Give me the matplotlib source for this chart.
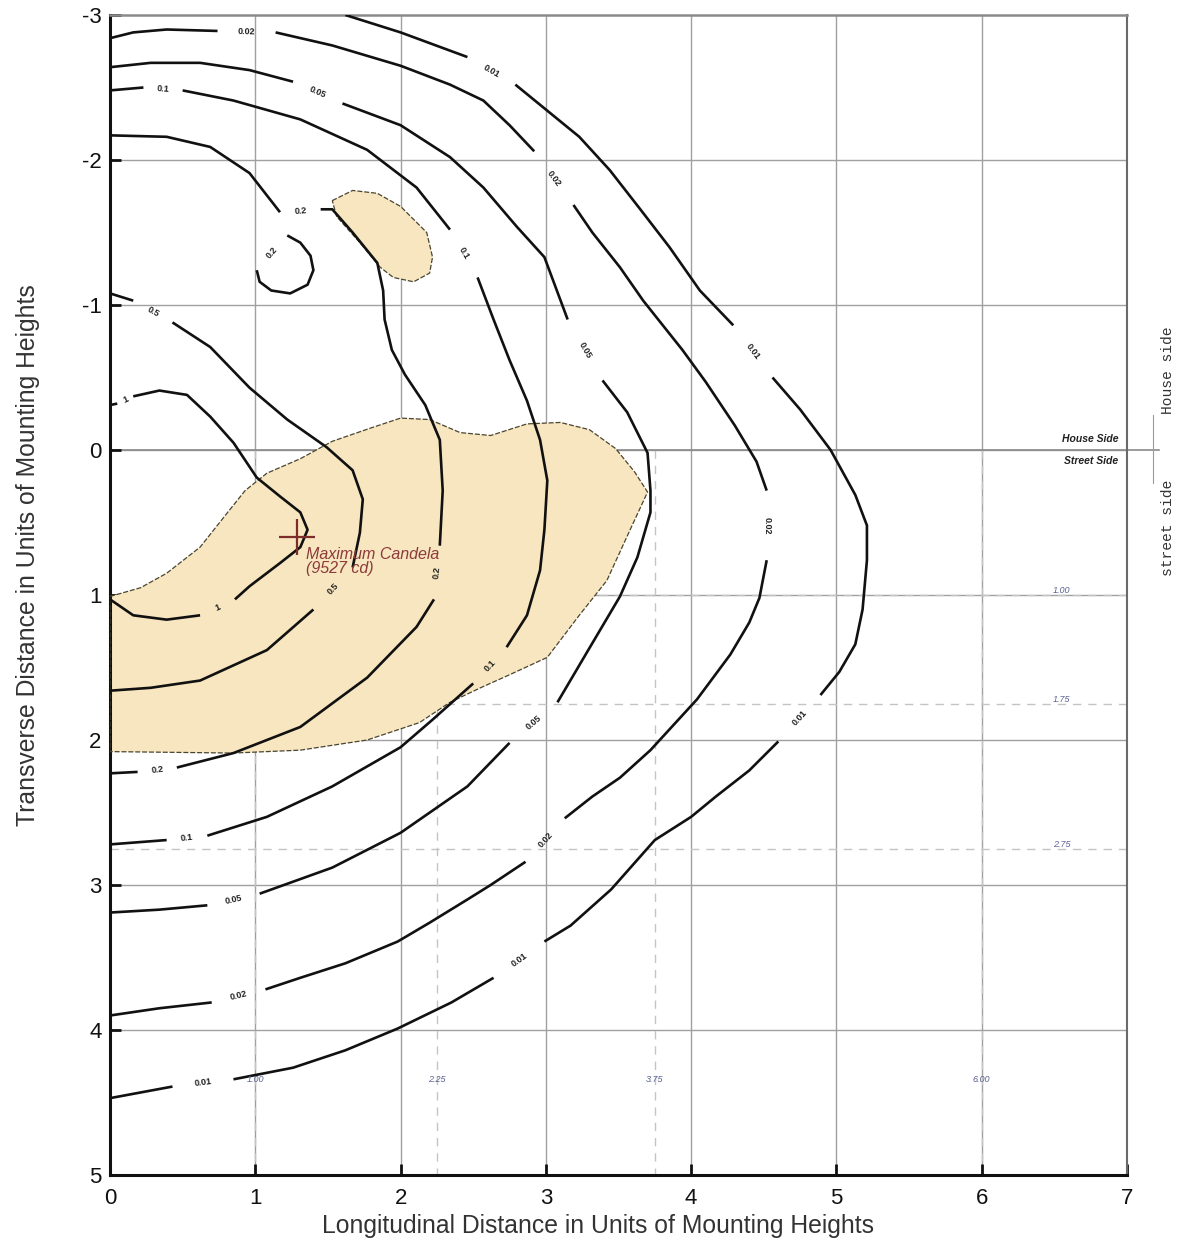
import numpy as np
import matplotlib
matplotlib.use('Agg')
import matplotlib.pyplot as plt
from matplotlib import font_manager

nan = np.nan

# ---------------- data (units of mounting heights) ----------------
# Iso-footcandle contours; NaN separates pieces (a label sits in each gap)
c001_x = [1.62, 2.00, 2.46, nan, 2.79, 3.01, 3.23, 3.44, 3.65, 3.85, 4.06, 4.29, nan,
          4.56, 4.75, 4.96, 5.13, 5.21, 5.21, 5.18, 5.13, 5.02, 4.89, nan,
          4.60, 4.40, 4.17, 4.00, 3.75, 3.45, 3.17, 2.99, nan,
          2.64, 2.35, 1.98, 1.62, 1.26, 0.85, nan, 0.43, 0.00]
c001_y = [-3.00, -2.88, -2.71, nan, -2.52, -2.34, -2.16, -1.93, -1.66, -1.40, -1.10, -0.86, nan,
          -0.50, -0.28, 0.00, 0.31, 0.52, 0.76, 1.10, 1.34, 1.53, 1.69, nan,
          2.01, 2.21, 2.39, 2.53, 2.69, 3.03, 3.28, 3.39, nan,
          3.64, 3.81, 3.99, 4.14, 4.26, 4.34, nan, 4.39, 4.47]

c002_x = [0.00, 0.16, 0.39, 0.74, nan, 1.14, 1.53, 2.00, 2.34, 2.57, 2.75, 2.92, nan,
          3.19, 3.32, 3.51, 3.67, 3.94, 4.10, 4.30, 4.45, 4.52, nan,
          4.52, 4.47, 4.40, 4.27, 4.04, 3.72, 3.51, 3.32, 3.13, nan,
          2.86, 2.62, 2.46, 2.20, 1.98, 1.62, 1.31, 1.07, nan, 0.70, 0.34, 0.00]
c002_y = [-2.84, -2.88, -2.90, -2.89, nan, -2.88, -2.79, -2.65, -2.52, -2.41, -2.24, -2.06, nan,
          -1.69, -1.50, -1.26, -1.03, -0.69, -0.47, -0.17, 0.08, 0.28, nan,
          0.76, 1.02, 1.19, 1.41, 1.72, 2.07, 2.26, 2.39, 2.54, nan,
          2.84, 3.00, 3.10, 3.26, 3.39, 3.54, 3.64, 3.72, nan, 3.81, 3.85, 3.90]

c005_x = [0.00, 0.28, 0.62, 0.96, 1.26, nan, 1.60, 2.00, 2.34, 2.57, 2.80, 2.99, 3.15, nan,
          3.39, 3.56, 3.70, 3.72, 3.72, 3.63, 3.51, 3.28, 3.08, nan,
          2.75, 2.46, 2.00, 1.53, 1.03, nan, 0.67, 0.34, 0.00]
c005_y = [-2.64, -2.67, -2.67, -2.62, -2.54, nan, -2.39, -2.24, -2.02, -1.81, -1.54, -1.33, -0.90, nan,
          -0.48, -0.26, 0.02, 0.28, 0.43, 0.74, 1.01, 1.40, 1.74, nan,
          2.02, 2.32, 2.64, 2.88, 3.06, nan, 3.14, 3.17, 3.19]

c01_x = [0.00, 0.23, nan, 0.50, 0.85, 1.31, 1.77, 2.11, 2.34, nan,
         2.53, 2.64, 2.75, 2.87, 2.96, 3.01, 2.99, 2.96, 2.87, 2.73, nan,
         2.50, 2.22, 2.00, 1.53, 1.08, 0.67, nan, 0.39, 0.00]
c01_y = [-2.48, -2.50, nan, -2.48, -2.41, -2.28, -2.07, -1.81, -1.52, nan,
         -1.19, -0.90, -0.62, -0.34, -0.07, 0.21, 0.55, 0.83, 1.14, 1.36, nan,
         1.61, 1.86, 2.05, 2.32, 2.53, 2.66, nan, 2.69, 2.72]

c02_x = [0.00, 0.39, 0.69, 0.96, 1.17, nan,
         1.45, 1.53, 1.67, 1.84, 1.88, 1.89, 1.94, 2.03, 2.17, 2.27, 2.29, 2.27, nan,
         2.23, 2.11, 1.77, 1.31, 0.85, 0.46, nan, 0.19, 0.00]
c02_y = [-2.17, -2.16, -2.09, -1.91, -1.64, nan,
         -1.66, -1.66, -1.50, -1.29, -1.10, -0.90, -0.69, -0.52, -0.31, -0.07, 0.28, 0.66, nan,
         1.03, 1.22, 1.57, 1.91, 2.09, 2.19, nan, 2.22, 2.23]

c02_island_x = [1.22, 1.31, 1.38, 1.40, 1.36, 1.24, 1.11, 1.03, 1.01]
c02_island_y = [-1.48, -1.43, -1.34, -1.24, -1.14, -1.08, -1.10, -1.16, -1.24]

c05_x = [0.00, 0.16, nan, 0.43, 0.69, 0.96, 1.22, 1.49, 1.67, 1.74, 1.72, 1.67, nan,
         1.40, 1.08, 0.62, 0.28, 0.00]
c05_y = [-1.08, -1.03, nan, -0.88, -0.71, -0.43, -0.21, -0.02, 0.14, 0.34, 0.57, 0.81, nan,
         1.10, 1.38, 1.59, 1.64, 1.66]

c1_x = [0.00, 0.05, nan, 0.16, 0.34, 0.53, 0.69, 0.85, 1.01, 1.17, 1.31, 1.36, 1.31, 1.17,
        0.96, 0.86, nan, 0.62, 0.39, 0.16, 0.00]
c1_y = [-0.31, -0.32, nan, -0.37, -0.41, -0.38, -0.23, -0.05, 0.19, 0.32, 0.43, 0.55, 0.67, 0.78,
        0.94, 1.03, nan, 1.14, 1.17, 1.14, 1.03]

# Shaded regions
tan_main_x = [0.00, 0.21, 0.39, 0.62, 0.81, 0.93, 1.08, 1.31, 1.53, 1.79, 2.00, 2.20, 2.41,
              2.62, 2.87, 3.10, 3.30, 3.48, 3.61, 3.70, 3.58, 3.42, 3.23, 3.01, 2.75, 2.55,
              2.34, 2.13, 1.77, 1.31, 0.85, 0.00]
tan_main_y = [1.01, 0.95, 0.85, 0.67, 0.43, 0.28, 0.16, 0.06, -0.06, -0.15, -0.22, -0.21, -0.12,
              -0.10, -0.18, -0.19, -0.14, -0.01, 0.15, 0.29, 0.55, 0.90, 1.14, 1.43, 1.55, 1.64,
              1.74, 1.88, 2.00, 2.07, 2.09, 2.08]
tan_small_x = [1.53, 1.67, 1.84, 2.00, 2.18, 2.22, 2.20, 2.09, 1.95, 1.86, 1.72, 1.56]
tan_small_y = [-1.72, -1.79, -1.77, -1.68, -1.50, -1.33, -1.22, -1.16, -1.19, -1.26, -1.43, -1.61]

# Reference lines (street side) and their labels
dash_x = [1.00, 2.25, 3.75, 6.00]
dash_x_labels = ['1.00', '2.25', '3.75', '6.00']
dash_y = [1.00, 1.75, 2.75]
dash_y_labels = ['1.00', '1.75', '2.75']

max_cd_x, max_cd_y = 1.29, 0.60
max_cd_text = ['Maximum Candela', '(9527 cd)']

x_ticks = [0, 1, 2, 3, 4, 5, 6, 7]
y_ticks = [-3, -2, -1, 0, 1, 2, 3, 4, 5]

contours = [
    ('0.01', c001_x, c001_y, False),
    ('0.02', c002_x, c002_y, False),
    ('0.05', c005_x, c005_y, False),
    ('0.1', c01_x, c01_y, False),
    ('0.2', c02_x, c02_y, False),
    ('0.2', c02_island_x, c02_island_y, True),
    ('0.5', c05_x, c05_y, False),
    ('1', c1_x, c1_y, False),
]

# ---------------- fonts ----------------
avail = {f.name for f in font_manager.fontManager.ttflist}
narrow = 'Liberation Sans Narrow' if 'Liberation Sans Narrow' in avail else 'Liberation Sans'
plt.rcParams['font.family'] = ['Liberation Sans', 'DejaVu Sans']

# ---------------- figure ----------------
W, H = 1178, 1249
fig = plt.figure(figsize=(W / 100, H / 100), dpi=100)
ax = fig.add_axes([110 / W, 1 - 1175 / H, (1127 - 110) / W, (1175 - 15) / H])
ax.set_xlim(0, 7)
ax.set_ylim(5, -3)

# grid
for gx in range(1, 7):
    ax.axvline(gx, color='#a0a0a0', lw=1.0, zorder=0)
for gy in range(-2, 5):
    ax.axhline(gy, color='#a0a0a0', lw=1.0, zorder=0)

# dashed street-side reference lines
for dx in dash_x:
    ax.plot([dx, dx], [0, 5], color='#c4c4c4', lw=1.0, ls=(0, (6, 5)), zorder=1)
for dy in dash_y:
    ax.plot([0, 7], [dy, dy], color='#c4c4c4', lw=1.0, ls=(0, (6, 5)), zorder=1)
for dx, lab in zip(dash_x, dash_x_labels):
    ax.text(dx, 4.34, lab, fontsize=6.5, style='italic', color='#5a6290',
            ha='center', va='center', zorder=6)
for dy, lab in zip(dash_y, dash_y_labels):
    ax.text(6.55, dy - 0.03, lab, fontsize=6.5, style='italic', color='#5a6290',
            ha='center', va='center', zorder=6)

# house / street divider line (extends past the frame)
ax.plot([0, 7.22], [0, 0], color='#8a8a8a', lw=1.2, zorder=1, clip_on=False)
ax.plot([7.18, 7.18], [-0.24, 0.23], color='#9a9a9a', lw=0.8, zorder=1, clip_on=False)

# shaded regions
for xs, ys in [(tan_main_x, tan_main_y), (tan_small_x, tan_small_y)]:
    ax.fill(xs, ys, facecolor='#f7e6bf', edgecolor='none', zorder=2)
    ax.fill(xs, ys, facecolor='none', edgecolor='#4a4530', lw=0.9,
            ls=(0, (4, 1.5)), zorder=3)

# contours
for lab, xs, ys, closed in contours:
    ax.plot(xs, ys, color='#111111', lw=1.9, solid_capstyle='butt', zorder=4)

fig.canvas.draw()


def place_label(lab, p0, p1):
    d0 = ax.transData.transform(p0)
    d1 = ax.transData.transform(p1)
    ang = np.degrees(np.arctan2(d1[1] - d0[1], d1[0] - d0[0]))
    if ang > 90:
        ang -= 180
    if ang < -90:
        ang += 180
    mx, my = (p0[0] + p1[0]) / 2, (p0[1] + p1[1]) / 2
    ax.text(mx, my, lab, fontsize=6.5, fontweight='bold', color='#222222',
            rotation=ang, rotation_mode='anchor', ha='center', va='center', zorder=5)


for lab, xs, ys, closed in contours:
    xs = np.asarray(xs, float)
    ys = np.asarray(ys, float)
    segs = []
    cur = []
    for a, b in zip(xs, ys):
        if np.isnan(a):
            segs.append(cur)
            cur = []
        else:
            cur.append((a, b))
    segs.append(cur)
    for s0, s1 in zip(segs[:-1], segs[1:]):
        place_label(lab, s0[-1], s1[0])
    if closed:
        place_label(lab, segs[-1][-1], segs[0][0])

# maximum candela marker
ax.plot([max_cd_x], [max_cd_y], marker='+', markersize=26, mew=1.6,
        color='#7d2b2b', zorder=6)
ax.text(max_cd_x + 0.06, max_cd_y + 0.12, max_cd_text[0], fontsize=11.5,
        style='italic', color='#8c3a3a', ha='left', va='center', zorder=6)
ax.text(max_cd_x + 0.06, max_cd_y + 0.22, max_cd_text[1], fontsize=11.5,
        style='italic', color='#8c3a3a', ha='left', va='center', zorder=6)

# house/street side labels
ax.text(6.94, -0.04, 'House Side', fontsize=7.5, style='italic', fontweight='bold',
        color='#222222', ha='right', va='bottom', zorder=6)
ax.text(6.94, 0.04, 'Street Side', fontsize=7.5, style='italic', fontweight='bold',
        color='#222222', ha='right', va='top', zorder=6)
ax.text(7.28, -0.55, 'House side', fontsize=10.5, family='Liberation Mono',
        color='#333333', rotation=90, ha='center', va='center', clip_on=False)
ax.text(7.28, 0.54, 'street side', fontsize=10.5, family='Liberation Mono',
        color='#333333', rotation=90, ha='center', va='center', clip_on=False)

# axes styling
ax.set_xticks(x_ticks)
ax.set_yticks(y_ticks)
ax.set_xticklabels([str(t) for t in x_ticks])
ax.set_yticklabels([str(t) for t in y_ticks])
ax.tick_params(direction='in', length=8, width=2, labelsize=16, pad=9,
               colors='#111111')
ax.tick_params(axis='y', pad=6)
for lbl in ax.get_xticklabels() + ax.get_yticklabels():
    lbl.set_fontfamily(['Liberation Sans', 'DejaVu Sans'])
ax.spines['left'].set_linewidth(2.2)
ax.spines['bottom'].set_linewidth(2.2)
ax.spines['left'].set_color('#111111')
ax.spines['bottom'].set_color('#111111')
ax.spines['top'].set_color('#8a8a8a')
ax.spines['right'].set_color('#6a6a6a')
ax.spines['top'].set_linewidth(1.8)
ax.spines['right'].set_linewidth(1.5)

fig.text(598 / W, 1 - 1226 / H, 'Longitudinal Distance in Units of Mounting Heights',
         fontsize=17.8, family=[narrow, 'Liberation Sans'], color='#333333',
         ha='center', va='center')
fig.text(28 / W, 1 - 555 / H, 'Transverse Distance in Units of Mounting Heights',
         fontsize=17.8, family=[narrow, 'Liberation Sans'], color='#333333',
         ha='center', va='center', rotation=90)

fig.savefig('out.png', dpi=100)
